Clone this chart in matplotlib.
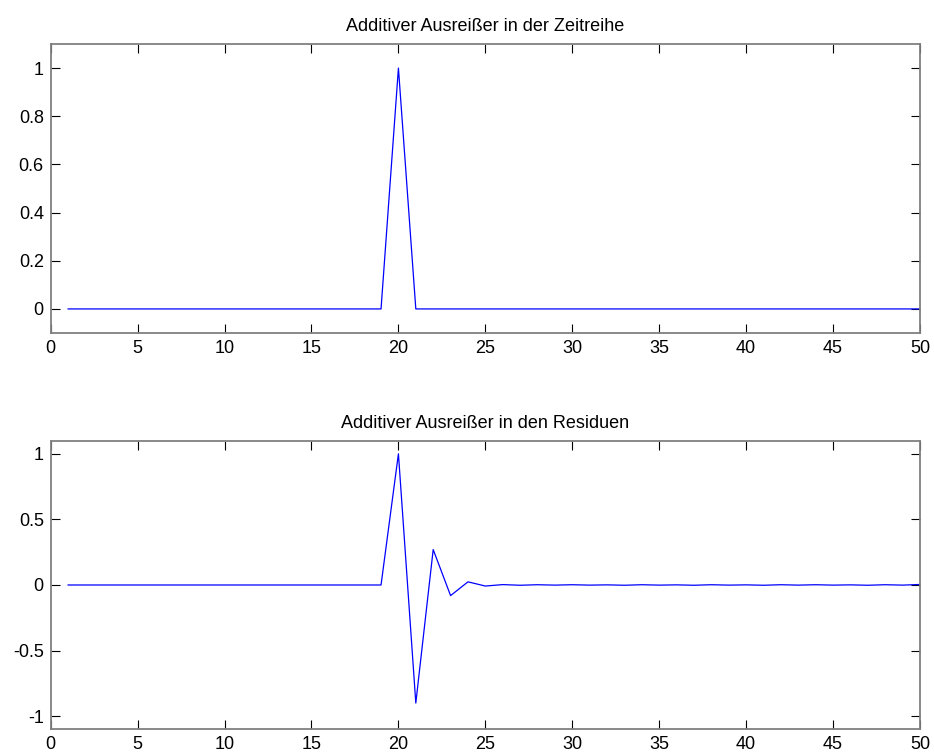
import matplotlib
matplotlib.use("Agg")
import matplotlib.pyplot as plt
import numpy as np

plt.rcParams["font.family"] = ["Liberation Sans", "DejaVu Sans"]

# time index 1..50
T = np.arange(1, 51)

# additive outlier in the series itself: single spike at t=20
SERIES = [0.0] * 19 + [1.0] + [0.0] * 30

# the same outlier as it shows up in the residuals (decaying echo after t=20)
RESID = ([0.0] * 19
         + [1.0, -0.9, 0.27, -0.081, 0.024, -0.008, 0.003, -0.002, 0.002, -0.001,
            0.002, -0.001, 0.001, -0.002, 0.002, -0.001, 0.001, -0.002, 0.002, -0.001,
            0.001, -0.002, 0.002, -0.001, 0.002, -0.001, 0.001, -0.002, 0.002, -0.001,
            0.004])

TITLES = ["Additiver Ausreißer in der Zeitreihe", "Additiver Ausreißer in den Residuen"]
YTICKS = [[0, 0.2, 0.4, 0.6, 0.8, 1], [-1, -0.5, 0, 0.5, 1]]
YTICKLABELS = [["0", "0.2", "0.4", "0.6", "0.8", "1"], ["-1", "-0.5", "0", "0.5", "1"]]
YLIMS = [(-0.1, 1.1), (-1.1, 1.1)]
XTICKS = list(range(0, 51, 5))

fig = plt.figure(figsize=(9.34, 7.56), dpi=100)
boxes = [[0.0543, 0.5595, 0.9307, 0.3823], [0.0543, 0.0353, 0.9307, 0.3818]]

for box, data, title, yt, ytl, yl in zip(boxes, [SERIES, RESID], TITLES, YTICKS, YTICKLABELS, YLIMS):
    ax = fig.add_axes(box)
    ax.plot(T, data, color="#0000ff", lw=0.9)
    ax.set_xlim(0, 50)
    ax.set_ylim(*yl)
    ax.set_xticks(XTICKS)
    ax.set_xticklabels([str(v) for v in XTICKS])
    ax.set_yticks(yt)
    ax.set_yticklabels(ytl)
    ax.tick_params(direction="in", length=6.5, width=0.8, top=True, right=True,
                   labelsize=13, color="black", pad=5)
    for sp in ax.spines.values():
        sp.set_color("#808080")
        sp.set_linewidth(1.3)
    ax.set_title(title, fontsize=13, pad=9)

fig.savefig("out.png", dpi=100)
